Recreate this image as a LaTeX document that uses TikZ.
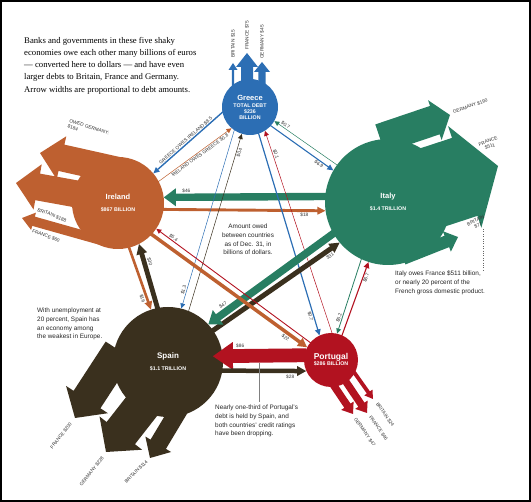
\documentclass[tikz,border=0pt]{standalone}
\usepackage{fontspec}
\setmainfont{Liberation Serif}
\setsansfont{Liberation Sans}
\usetikzlibrary{calc,positioning}
\pgfdeclarelayer{back}
\pgfsetlayers{back,main}
\definecolor{grblue}{RGB}{44,110,180}
\definecolor{irorange}{RGB}{190,96,48}
\definecolor{itgreen}{RGB}{40,126,98}
\definecolor{spbrown}{RGB}{58,48,30}
\definecolor{ptred}{RGB}{178,18,32}

\begin{document}
\begin{tikzpicture}[x=1pt,y=-1pt,
      country/.style={circle,inner sep=0pt,text=white,align=center,
          font=\sffamily\bfseries\fontsize{5.3}{6}\selectfont},
      % filled arrow: shaft width, head width, head length
      fat/.style n args={3}{draw=none,to path={
          ($(\tikztostart)!-2pt!(\tikztotarget)$) coordinate (fatS)
          ($(\tikztotarget)!#3pt!(\tikztostart)$) coordinate (fatB)
          ($(fatS)!#1pt/2!90:(\tikztotarget)$) -- ($(fatB)!#1pt/2!-90:(fatS)$)
          -- ($(fatB)!#2pt/2!-90:(fatS)$) -- (\tikztotarget)
          -- ($(fatB)!#2pt/2!90:(fatS)$) -- ($(fatB)!#1pt/2!90:(fatS)$)
          -- ($(fatS)!#1pt/2!-90:(\tikztotarget)$) -- cycle
          (\tikztostart) -- (\tikztotarget) \tikztonodes}},
      amt/.style={font=\sffamily\fontsize{4.8}{5}\selectfont,text=black!80,
          inner sep=1pt,sloped},
      ext/.style={font=\sffamily\fontsize{4.8}{5.6}\selectfont,text=black!80,
          inner sep=0pt},
      note/.style={font=\sffamily\fontsize{6.4}{8.6}\selectfont,text=black!85,
          inner sep=0pt,align=left}]

    \useasboundingbox (0,0) rectangle (531,502);
    \draw[line width=2pt] (1,1) rectangle (530,501);

    \node[anchor=north west,align=left,inner sep=0pt,
        font=\fontsize{8.7}{12.2}\selectfont] (intro) at (24,37)
        {Banks and governments in these five shaky\\
         economies owe each other many billions of euros\\
         --- converted here to dollars --- and have even\\
         larger debts to Britain, France and Germany.\\
         Arrow widths are proportional to debt amounts.};

    % the five countries
    \node[country,fill=grblue,minimum size=56pt] (gre) at (250,107)
        {{\fontsize{7.5}{8}\selectfont Greece}\\[1pt]TOTAL DEBT\\\$236\\BILLION};
    \node[country,fill=irorange,minimum size=92pt] (ire) at (118,203)
        {{\fontsize{7.5}{8}\selectfont Ireland}\\[6pt]\$867 BILLION};
    \node[country,fill=itgreen,minimum size=126pt] (ita) at (388,202)
        {{\fontsize{7.5}{8}\selectfont Italy}\\[6pt]\$1.4 TRILLION};
    \node[country,fill=spbrown,minimum size=110pt] (spa) at (168,362)
        {{\fontsize{8}{8}\selectfont Spain}\\[6pt]\$1.1 TRILLION};
    \node[country,fill=ptred,minimum size=54pt] (por) at (331,360)
        {{\fontsize{8.5}{9}\selectfont Portugal}\\\$286 BILLION};

    % debts to Britain, France, Germany
    \coordinate (greB0) at (233,100); \coordinate (greB) at (233,63);
    \coordinate (greF0) at (247,100); \coordinate (greF) at (247,53);
    \coordinate (greG0) at (262,100); \coordinate (greG) at (262,62);
    \coordinate (ireG0) at (125,172); \coordinate (ireG) at (40,153);
    \coordinate (ireB0) at (110,200); \coordinate (ireB) at (16,183);
    \coordinate (ireF0) at (100,240); \coordinate (ireF) at (22,218);
    \coordinate (itaG0) at (382,138); \coordinate (itaG) at (450,115);
    \coordinate (itaF) at (498,166);
    \coordinate (itaB0) at (405,258); \coordinate (itaB) at (458,237);
    \coordinate (spaF0) at (118,352); \coordinate (spaF) at (75,418);
    \coordinate (spaG0) at (160,383); \coordinate (spaG) at (106,452);
    \coordinate (spaB0) at (180,408); \coordinate (spaB) at (150,458);
    \coordinate (porG0) at (322,368); \coordinate (porG) at (353,414);
    \coordinate (porF0) at (336,367); \coordinate (porF) at (367,413);
    \coordinate (porB0) at (344,358); \coordinate (porB) at (373,399);

    \begin{pgfonlayer}{back}
      \path[fill=grblue] (greB0) to[fat={2.4}{9}{7}] (greB)
          (greF0) to[fat={12}{22}{14}] (greF)
          (greG0) to[fat={7.2}{16}{10}] (greG);
      \path[fill=irorange] (ireG0) to[fat={27}{44}{22}] (ireG)
          (ireB0) to[fat={27}{46}{22}] (ireB)
          (ireF0) to[fat={9.6}{18}{12}] (ireF);
      \path[fill=itgreen] (ita.center) to[fat={82}{107}{35}] (itaF)
          (itaG0) to[fat={30}{42}{16}] (itaG)
          (itaB0) to[fat={12.3}{22}{12}] (itaB);
      \path[fill=spbrown] (spaF0) to[fat={32}{50}{22}] (spaF)
          (spaG0) to[fat={36}{54}{24}] (spaG)
          (spaB0) to[fat={18}{30}{16}] (spaB);
      \path[fill=ptred] (porG0) to[fat={7.5}{15}{10}] (porG)
          (porF0) to[fat={7.4}{15}{10}] (porF)
          (porB0) to[fat={3.8}{10}{8}] (porB);
    \end{pgfonlayer}

    \node[ext,rotate=90,anchor=west] (greBl) at (233,58) {BRITAIN \$15};
    \node[ext,rotate=90,anchor=west] (greFl) at (247,50) {FRANCE \$75};
    \node[ext,rotate=90,anchor=west] (greGl) at (262,59) {GERMANY \$45};
    \node[ext,rotate=-18,anchor=north west,align=left] (ireGl) at (70,119)
        {OWED GERMANY:\\\$184};
    \node[ext,rotate=-21] (ireBl) at (52,215) {BRITAIN \$188};
    \node[ext,rotate=-21] (ireFl) at (46,236) {FRANCE \$60};
    \node[ext,rotate=19,anchor=west] (itaGl) at (453,112) {GERMANY \$190};
    \node[ext,rotate=20,align=center] (itaFl) at (489,144) {FRANCE\\\$511};
    \node[ext,rotate=28,align=center] (itaBl) at (477,223) {BRITAIN\\\$77};
    \node[ext,rotate=52,anchor=east] (spaFl) at (71,423) {FRANCE \$200};
    \node[ext,rotate=52,anchor=east] (spaGl) at (103,457) {GERMANY \$228};
    \node[ext,rotate=45,anchor=east] (spaBl) at (147,461) {BRITAIN \$114};
    \node[ext,rotate=-55,anchor=west] (porGl) at (355,418) {GERMANY \$47};
    \node[ext,rotate=-55,anchor=west] (porFl) at (370,416) {FRANCE \$46};
    \node[ext,rotate=-55,anchor=west] (porBl) at (377,403) {BRITAIN \$24};

    % what the five owe each other
    \path
    (ita.175.5) edge[fill=itgreen,fat={7.4}{18}{12}] node[amt,pos=.86,above=3.7pt] {\$46} (ire.7.4)
    (ire.-8.7) edge[fill=irorange,fat={2.9}{8}{8}] node[amt,pos=.87,below=1.5pt] {\$18} (ita.-172.8)
    (gre.191) edge[fill=grblue,fat={1.4}{6}{6}] node[amt,pos=.5,above] {GREECE OWES IRELAND \$8.5} (ire.40)
    (ire.28.7) edge[fill=irorange,fat={.5}{5}{5}] node[amt,pos=.54,below] {IRELAND OWES GREECE \$0.8} (gre.229.6)
    (gre.-42) edge[fill=grblue,fat={1.1}{6}{6}] node[amt,pos=.8,below] {\$6.9} (ita.150)
    (ita.144) edge[fill=itgreen,fat={.5}{5}{5}] node[amt,pos=.85,above] {\$0.7} (gre.-30)
    (spa.68) edge[fill=spbrown,fat={.5}{5}{5}] node[amt,pos=.9,below] {\$0.4} (gre.253)
    (gre.236) edge[fill=grblue,fat={.5}{5}{5}] node[amt,pos=.9,above] {\$1.3} (spa.76)
    (gre.-72) edge[fill=grblue,fat={1.2}{6}{6}] node[amt,pos=.9,below] {\$0.7} (por.115)
    (por.88) edge[fill=ptred,fat={.5}{5}{5}] node[amt,pos=.88,above] {\$0.1} (gre.-58)
    (ita.245) edge[fill=itgreen,fat={.8}{5}{5}] node[amt,pos=.8,above] {\$5.2} (por.77.5)
    (por.66) edge[fill=ptred,fat={1.1}{6}{6}] node[amt,pos=.8,below] {\$6.7} (ita.252)
    (spa.35) edge[fill=spbrown,fat={5}{11}{10}] node[amt,pos=.9,below=2.5pt] {\$31} (ita.220)
    (ita.210) edge[fill=itgreen,fat={7.5}{18}{12}] node[amt,pos=.85,above=3.8pt] {\$47} (spa.43)
    (ire.-76) edge[fill=irorange,fat={2.6}{8}{8}] node[amt,pos=.8,below=1.3pt] {\$16} (spa.108)
    (spa.101) edge[fill=spbrown,fat={4.8}{11}{10}] node[amt,pos=.7,above=2.4pt] {\$30} (ire.-63)
    (ire.-43) edge[fill=irorange,fat={3.5}{10}{9}] node[amt,pos=.88,below=1.8pt] {\$22} (por.152)
    (por.140) edge[fill=ptred,fat={.9}{5}{5}] node[amt,pos=.9,above] {\$5.4} (ire.-34)
    (por.170.4) edge[fill=ptred,fat={13.8}{28}{20}] node[amt,pos=.7,above=7pt] {\$86} ([xshift=-10pt]spa.6)
    (spa.-9.4) edge[fill=spbrown,fat={4.5}{10}{9}] node[amt,pos=.81,below=2.3pt] {\$28} (por.204)
    ;

    % notes
    \node[note,align=center] (amtnote) at (248,239.5)
        {Amount owed\\between countries\\as of Dec. 31, in\\billions of dollars.};
    \node[note,anchor=north west] (itanote) at (395,271)
        {Italy owes France \$511 billion,\\or nearly 20 percent of the\\French gross domestic product.};
    \node[note,anchor=north west] (spanote) at (37,308)
        {With unemployment at\\20 percent, Spain has\\an economy among\\the weakest in Europe.};
    \node[note,anchor=north west] (pornote) at (215,405)
        {Nearly one-third of Portugal's\\debt is held by Spain, and\\both countries' credit ratings\\have been dropping.};

    \coordinate (fbarb) at (483,229);
    \coordinate (pbar) at (259,363);
    \draw[dotted,black!60] (fbarb) -- (fbarb |- itanote.north);
    \draw[black!50,thin,shorten >=3pt] (pbar) -- (pbar |- pornote.north);

  \end{tikzpicture}
\end{document}
